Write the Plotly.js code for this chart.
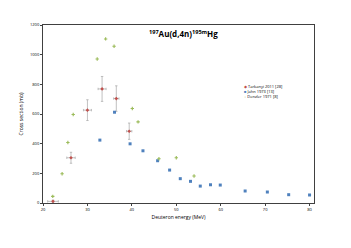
<!DOCTYPE html>
<html><head><meta charset="utf-8">
<script src="https://cdn.plot.ly/plotly-3.0.1.min.js"></script>
<style>html,body{margin:0;padding:0;background:#fff}#c{width:351px;height:248px}</style>
</head><body><div id="c"></div>
<script>
// Tarkanyi 2011 [28]
const tarX = [22.25, 26.3, 30.0, 33.3, 36.5, 39.4];
const tarY = [11, 305, 626, 769, 704, 484];
const tarXerr = [1.2, 0.95, 0.9, 0.9, 0.6, 0.6];
const tarYerr = [8, 37, 70, 84, 86, 55];
// Jahn 1973 [13]
const jahnX = [32.8, 36.1, 39.6, 42.5, 45.8, 48.5, 50.9, 53.2, 55.4, 57.7, 59.9, 65.5, 70.5, 75.3, 80.0];
const jahnY = [424, 612, 399, 352, 285, 222, 164, 146, 114, 123, 121, 81, 74, 56, 54];
// Denzler 1971 [8]
const denX = [22.2, 24.3, 25.6, 26.8, 32.2, 34.1, 36.0, 40.1, 41.4, 46.1, 50.0, 54.0];
const denY = [45, 197, 408, 597, 971, 1106, 1057, 637, 547, 298, 305, 182];

const seriesNames = ['Tarkanyi 2011 [28]', 'Jahn 1973 [13]', 'Denzler 1971 [8]'];
const seriesColors = ['#c0504d', '#4f81bd', '#9bbb59'];
const legendGlyphs = ['◆', '■', '+'];

const xTicks = [20, 30, 40, 50, 60, 70, 80];
const yTicks = [0, 200, 400, 600, 800, 1000, 1200];

const F = '"Open Sans", "Liberation Sans", sans-serif';
const traces = [
  {x: tarX, y: tarY, type: 'scatter', mode: 'markers', name: seriesNames[0],
   marker: {symbol: 'diamond', size: 2.8, color: seriesColors[0]},
   error_x: {type: 'data', array: tarXerr, color: '#a6a6a6', thickness: 0.7, width: 1.2},
   error_y: {type: 'data', array: tarYerr, color: '#a6a6a6', thickness: 0.7, width: 1.2}},
  {x: jahnX, y: jahnY, type: 'scatter', mode: 'markers', name: seriesNames[1],
   marker: {symbol: 'square', size: 3, color: seriesColors[1]}},
  {x: denX, y: denY, type: 'scatter', mode: 'markers', name: seriesNames[2],
   marker: {symbol: 'cross', size: 2.8, color: seriesColors[2]}}
];
const legendText = seriesNames.map((n, i) =>
  '<span style="color:' + seriesColors[i] + '">' + legendGlyphs[i] + '</span> ' + n).join('<br>');
const layout = {
  width: 351, height: 248,
  margin: {l: 43, r: 37, t: 25, b: 45},
  paper_bgcolor: '#fff', plot_bgcolor: '#fff',
  font: {family: F, size: 4, color: '#000'},
  showlegend: false,
  xaxis: {range: [20, 81], tickvals: xTicks, ticktext: xTicks.map(String), showgrid: false, zeroline: false,
          showline: true, linecolor: '#404040', linewidth: 1, mirror: true, ticks: 'outside', ticklen: 2,
          tickcolor: '#404040', tickfont: {size: 4, family: F},
          title: {text: 'Deuteron energy (MeV)', font: {size: 5, family: F}, standoff: 4}},
  yaxis: {range: [0, 1200], tickvals: yTicks, ticktext: yTicks.map(String), showgrid: false, zeroline: false,
          showline: true, linecolor: '#404040', linewidth: 1, mirror: true, ticks: 'outside', ticklen: 2,
          tickcolor: '#404040', tickfont: {size: 4, family: F},
          title: {text: 'Cross section (mb)', font: {size: 5, family: F}, standoff: 6}},
  annotations: [
    {xref: 'paper', yref: 'paper', x: 0.52, y: 0.955, xanchor: 'center', yanchor: 'middle',
     showarrow: false, text: '<b><sup>197</sup>Au(d,4n)<sup>195m</sup>Hg</b>', font: {size: 8, family: F}},
    {xref: 'paper', yref: 'paper', x: 0.735, y: 0.68, xanchor: 'left', yanchor: 'top', align: 'left',
     showarrow: false, text: legendText, font: {size: 4, family: F}}
  ]
};
Plotly.newPlot('c', traces, layout, {displayModeBar: false, staticPlot: true});
</script></body></html>
